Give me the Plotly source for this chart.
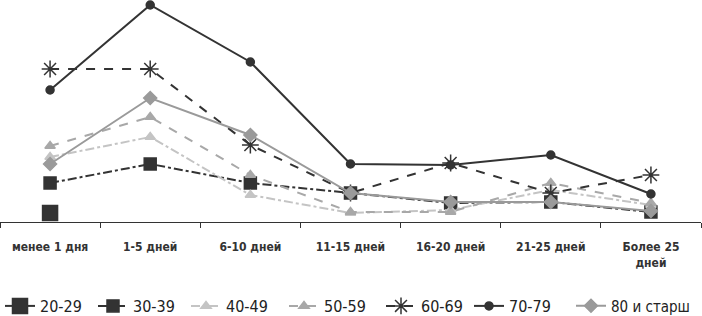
import plotly.graph_objects as go

categories = ["менее 1 дня", "1-5 дней", "6-10 дней", "11-15 дней", "16-20 дней", "21-25 дней", "Более 25<br>дней"]

s20_29 = [0.9, None, None, None, None, None, None]
s30_39 = [3.9, 5.8, 3.9, 2.9, 1.9, 2.0, 1.0]
s40_49 = [6.5, 8.5, 2.7, 0.9, 1.2, 3.2, 1.7]
s50_59 = [7.6, 10.5, 4.7, 1.0, 1.0, 3.9, 1.9]
s60_69 = [15.3, 15.3, 7.7, 2.9, 5.9, 2.9, 4.7]
s70_79 = [13.2, 21.7, 16.0, 5.8, 5.7, 6.7, 2.8]
s80 = [5.8, 12.4, 8.7, 2.9, 2.0, 2.0, 1.1]

series = [
    ("20-29", s20_29, "#333333", "solid", "square", 15, 2),
    ("30-39", s30_39, "#333333", "dashdot", "square", 12, 2),
    ("40-49", s40_49, "#c4c4c4", "dashdot", "triangle-up", 9, 2),
    ("50-59", s50_59, "#a8a8a8", "dash", "triangle-up", 9, 2),
    ("60-69", s60_69, "#333333", "dash", "asterisk-open", 14, 2),
    ("70-79", s70_79, "#333333", "solid", "circle", 8, 2),
    ("80 и старш", s80, "#9a9a9a", "solid", "diamond", 10, 2),
]

# legend anchor positions (px from left)
legend_x = [-13, 93, 186, 284, 381, 469, 571]

fig = go.Figure()
legend_layout = {}
for i, (name, vals, color, dash, sym, size, w) in enumerate(series):
    lname = "legend" if i == 0 else f"legend{i+1}"
    fig.add_trace(go.Scatter(
        x=categories, y=vals, name=name, mode="lines+markers",
        line=dict(color=color, width=w, dash=dash),
        marker=dict(symbol=sym, size=size, color=color,
                    line=dict(color=color, width=1.5)),
        connectgaps=False, legend=lname,
    ))
    legend_layout[lname] = dict(
        orientation="h", x=legend_x[i] / 702, xanchor="left", xref="container",
        y=10 / 316, yanchor="middle", yref="container",
        font=dict(size=16 if i < 6 else 15, color="#222222", family="DejaVu Sans Condensed"),
        itemwidth=30, bgcolor="rgba(0,0,0,0)",
    )

fig.update_layout(
    width=702, height=316,
    margin=dict(l=0, r=1, t=0, b=94),
    paper_bgcolor="white", plot_bgcolor="white",
    font=dict(family="DejaVu Sans Condensed, Liberation Sans Narrow, Roboto", color="#333333"),
    showlegend=True,
    xaxis=dict(type="category", range=[-0.5, 6.5], showline=True, linecolor="#333333",
               linewidth=1, ticks="outside", tickson="boundaries", ticklen=5,
               tickcolor="#333333", showgrid=False, zeroline=False,
               tickfont=dict(size=12, color="#333333", weight="bold"), ticklabelstandoff=14),
    yaxis=dict(range=[0, 22.2], visible=False, showgrid=False, zeroline=False),
    **legend_layout,
)

fig.write_html("out.html", config={"displayModeBar": False},
               post_script="document.body.style.margin='0';document.body.style.padding='0';")
